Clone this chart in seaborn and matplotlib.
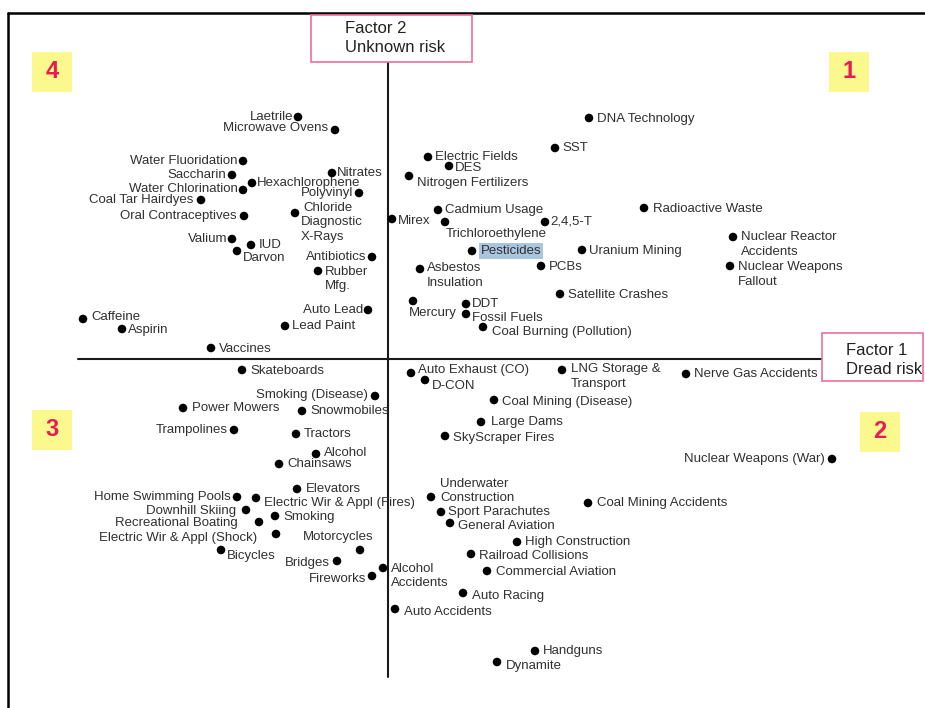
import matplotlib.pyplot as plt
import seaborn as sns
import pandas as pd
from matplotlib.patches import Rectangle

# risk items and their factor scores (factor 1 = dread, factor 2 = unknown)
risks = [
    "DNA Technology", "SST", "Electric Fields", "DES", "Nitrogen Fertilizers",
    "Cadmium Usage", "Mirex", "Trichloroethylene", "2,4,5-T", "Radioactive Waste",
    "Nuclear Reactor\nAccidents", "Pesticides", "Uranium Mining",
    "Asbestos\nInsulation", "PCBs", "Nuclear Weapons\nFallout",
    "Satellite Crashes", "Mercury", "DDT", "Fossil Fuels",
    "Coal Burning (Pollution)",
    "Laetrile", "Microwave Ovens", "Water Fluoridation", "Saccharin", "Nitrates",
    "Hexachlorophene", "Water Chlorination", "Polyvinyl\nChloride",
    "Coal Tar Hairdyes", "Diagnostic\nX-Rays", "Oral Contraceptives", "Valium",
    "IUD", "Darvon", "Antibiotics", "Rubber\nMfg.", "Auto Lead", "Lead Paint",
    "Caffeine", "Aspirin", "Vaccines",
    "Skateboards", "Smoking (Disease)", "Power Mowers", "Snowmobiles",
    "Trampolines", "Tractors", "Alcohol", "Chainsaws", "Elevators",
    "Home Swimming Pools", "Electric Wir & Appl (Fires)", "Downhill Skiing",
    "Smoking", "Recreational Boating", "Electric Wir & Appl (Shock)",
    "Motorcycles", "Bicycles", "Bridges", "Fireworks", "Alcohol\nAccidents",
    "Auto Exhaust (CO)", "D-CON", "LNG Storage &\nTransport",
    "Nerve Gas Accidents", "Coal Mining (Disease)", "Large Dams",
    "SkyScraper Fires", "Nuclear Weapons (War)", "Underwater\nConstruction",
    "Coal Mining Accidents", "Sport Parachutes", "General Aviation",
    "High Construction", "Railroad Collisions", "Commercial Aviation",
    "Auto Racing", "Auto Accidents", "Handguns", "Dynamite",
]

dread = [
    2.01, 1.67, 0.40, 0.61, 0.21, 0.50, 0.04, 0.57, 1.57, 2.56,
    3.45, 0.84, 1.94, 0.32, 1.53, 3.42, 1.72, 0.25, 0.78, 0.78, 0.95,
    -0.90, -0.53, -1.45, -1.56, -0.56, -1.36, -1.45, -0.29, -1.87, -0.93,
    -1.44, -1.56, -1.37, -1.51, -0.16, -0.70, -0.20, -1.03, -3.05, -2.66,
    -1.77,
    -1.46, -0.13, -2.05, -0.86, -1.54, -0.92, -0.72, -1.09, -0.91, -1.51,
    -1.32, -1.42, -1.13, -1.29, -1.12, -0.28, -1.67, -0.51, -0.16, -0.05,
    0.23, 0.37, 1.74, 2.98, 1.06, 0.93, 0.57, 4.44, 0.43, 2.00, 0.53,
    0.62, 1.29, 0.83, 0.99, 0.75, 0.07, 1.47, 1.09,
]

unknown = [
    2.41, 2.11, 2.02, 1.93, 1.83, 1.49, 1.40, 1.37, 1.37, 1.51,
    1.22, 1.08, 1.09, 0.90, 0.93, 0.93, 0.65, 0.58, 0.55, 0.45, 0.32,
    2.42, 2.29, 1.98, 1.84, 1.86, 1.76, 1.69, 1.66, 1.59, 1.46,
    1.43, 1.20, 1.14, 1.08, 1.02, 0.88, 0.49, 0.33, 0.40, 0.30, 0.11,
    -0.11, -0.37, -0.49, -0.52, -0.71, -0.75, -0.95, -1.05, -1.30, -1.38,
    -1.39, -1.51, -1.57, -1.63, -1.75, -1.91, -1.91, -2.02, -2.17, -2.09,
    -0.14, -0.21, -0.11, -0.15, -0.41, -0.63, -0.77, -1.00, -1.38, -1.44,
    -1.53, -1.64, -1.83, -1.95, -2.12, -2.34, -2.50, -2.92, -3.03,
]

# label placement: offset from the dot in pixels (x right, y down), alignment
label_pos = {
    "DNA Technology": (8, 1, "left"), "SST": (7, 0, "left"),
    "Electric Fields": (7, 0, "left"), "DES": (6, 2, "left"),
    "Nitrogen Fertilizers": (8, 7, "left"), "Cadmium Usage": (7, 0, "left"),
    "Mirex": (6, 2, "left"), "Trichloroethylene": (1, 12, "left"),
    "2,4,5-T": (5, 0, "left"), "Radioactive Waste": (9, 1, "left"),
    "Nuclear Reactor\nAccidents": (8, 7.5, "left"),
    "Pesticides": (9, 0, "left"), "Uranium Mining": (7, 1, "left"),
    "Asbestos\nInsulation": (7, 6.5, "left"), "PCBs": (8, 1, "left"),
    "Nuclear Weapons\nFallout": (8, 8.5, "left"),
    "Satellite Crashes": (8, 1, "left"), "Mercury": (-4, 12, "left"),
    "DDT": (6, 0, "left"), "Fossil Fuels": (6, 4, "left"),
    "Coal Burning (Pollution)": (9, 5, "left"),
    "Laetrile": (-5, 0, "right"), "Microwave Ovens": (-7, -2, "right"),
    "Water Fluoridation": (-6, 0, "right"), "Saccharin": (-6, 0, "right"),
    "Nitrates": (5, 0, "left"), "Hexachlorophene": (5, 0, "left"),
    "Water Chlorination": (-5, -1, "right"),
    "Polyvinyl\nChloride": (-6, 7.5, "right"),
    "Coal Tar Hairdyes": (-8, 0, "right"),
    "Diagnostic\nX-Rays": (6, 16.5, "left"),
    "Oral Contraceptives": (-7, 0, "right"), "Valium": (-5, 0, "right"),
    "IUD": (8, 0, "left"), "Darvon": (6, 7, "left"),
    "Antibiotics": (-6, 0, "right"), "Rubber\nMfg.": (7, 8, "left"),
    "Auto Lead": (-5, 0, "right"), "Lead Paint": (7, 0, "left"),
    "Caffeine": (8, -2, "left"), "Aspirin": (6, 1, "left"),
    "Vaccines": (8, 1, "left"),
    "Skateboards": (8, 1, "left"), "Smoking (Disease)": (-7, -1, "right"),
    "Power Mowers": (9, 0, "left"), "Snowmobiles": (8, 0, "left"),
    "Trampolines": (-6, 0, "right"), "Tractors": (8, 0, "left"),
    "Alcohol": (8, -1, "left"), "Chainsaws": (8, 0, "left"),
    "Elevators": (9, 0, "left"), "Home Swimming Pools": (-6, 0, "right"),
    "Electric Wir & Appl (Fires)": (8, 5, "left"),
    "Downhill Skiing": (-10, 1, "right"), "Smoking": (8, 1, "left"),
    "Recreational Boating": (-21, 1, "right"),
    "Electric Wir & Appl (Shock)": (-19, 4, "right"),
    "Motorcycles": (13, -13, "right"), "Bicycles": (6, 6, "left"),
    "Bridges": (-7, 2, "right"), "Fireworks": (-6, 3, "right"),
    "Alcohol\nAccidents": (8, 8, "left"),
    "Auto Exhaust (CO)": (7, -3, "left"), "D-CON": (7, 6, "left"),
    "LNG Storage &\nTransport": (9, 6.5, "left"),
    "Nerve Gas Accidents": (8, 0, "left"),
    "Coal Mining (Disease)": (8, 2, "left"), "Large Dams": (10, 0, "left"),
    "SkyScraper Fires": (8, 2, "left"),
    "Nuclear Weapons (War)": (-7, 0, "right"),
    "Underwater\nConstruction": (9, -6, "left"),
    "Coal Mining Accidents": (9, 0, "left"),
    "Sport Parachutes": (7, 0, "left"), "General Aviation": (8, 3, "left"),
    "High Construction": (8, 0, "left"),
    "Railroad Collisions": (8, 2, "left"),
    "Commercial Aviation": (9, 1, "left"), "Auto Racing": (9, 3, "left"),
    "Auto Accidents": (9, 3, "left"), "Handguns": (8, 0, "left"),
    "Dynamite": (9, 4, "left"),
}

df = pd.DataFrame({"risk": risks, "dread": dread, "unknown": unknown})

sns.set_theme(style="white")
plt.rcParams["font.family"] = ["Liberation Sans", "DejaVu Sans"]

W, H = 925, 708
fig = plt.figure(figsize=(W / 100, H / 100), dpi=100)
ax = fig.add_axes([0, 0, 1, 1])
# origin of the factor axes sits at pixel (388, 359), 100 px per unit
ax.set_xlim(-3.88, (W - 388) / 100)
ax.set_ylim((359 - H) / 100, 3.59)
ax.axis("off")


def fx(px):
    return px / W


def fy(py):
    return 1 - py / H


# outer frame (left and top edges only are visible)
fig.add_artist(plt.Line2D([fx(8), fx(8)], [fy(13), 0], color="black", lw=1.8))
fig.add_artist(plt.Line2D([fx(8), 1], [fy(13), fy(13)], color="black", lw=1.8))

# factor axes
ax.plot([-3.10, 4.52], [0, 0], color="#1a1a1a", lw=1.5, zorder=1)
ax.plot([0, 0], [2.97, -3.18], color="#1a1a1a", lw=1.5, zorder=1)

sns.scatterplot(data=df, x="dread", y="unknown", ax=ax, color="black",
                s=38, edgecolor="none", zorder=3, legend=False)

for name, x, y in zip(risks, dread, unknown):
    dx, dy, ha = label_pos[name]
    kw = {}
    if name == "Pesticides":
        kw["bbox"] = dict(boxstyle="square,pad=0.12", fc="#aac5df",
                          ec="none")
    ax.annotate(name, (x, y), xytext=(dx, -dy), textcoords="offset pixels",
                ha=ha, va="center", multialignment=ha, fontsize=9.5,
                color="#303030", linespacing=1.3, zorder=4, **kw)

# factor title boxes
pink = "#ee6f97"
fig.add_artist(Rectangle((fx(311), fy(62)), fx(472) - fx(311), fy(15) - fy(62),
                         fill=True, fc="white", ec=pink, lw=1.2, zorder=5))
fig.text(fx(345), fy(38), "Factor 2\nUnknown risk", fontsize=12,
         color="#222222", va="center", ha="left", linespacing=1.35, zorder=6)
fig.add_artist(Rectangle((fx(822), fy(381)), fx(923) - fx(822), fy(333) - fy(381),
                         fill=True, fc="white", ec=pink, lw=1.2, zorder=5))
fig.text(fx(846), fy(360), "Factor 1\nDread risk", fontsize=12,
         color="#222222", va="center", ha="left", linespacing=1.35, zorder=6)

# quadrant numbers
quadrants = [("1", 829, 52), ("2", 860, 412), ("3", 32, 410), ("4", 32, 52)]
for num, qx, qy in quadrants:
    fig.add_artist(Rectangle((fx(qx), fy(qy + 40)), fx(40), 40 / H,
                             fc="#fbf98e", ec="none", zorder=5))
    fig.text(fx(qx + 20), fy(qy + 20), num, fontsize=17, fontweight="bold",
             color="#ea1a55", ha="center", va="center", zorder=6)

fig.savefig("out.png", dpi=100)
